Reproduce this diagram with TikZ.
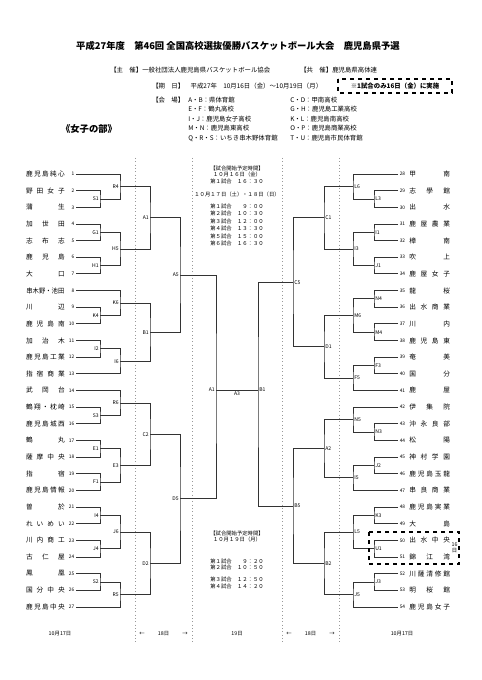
\documentclass[tikz,border=0pt]{standalone}
\usepackage{fontspec}
\usepackage{graphicx}
\setmainfont{Noto Sans CJK JP}
\newcommand\ry[1]{{174+(#1-1)*16.65}}
\newcommand\nm[1]{\nmA#1\relax}
\def\nmA#1{\ifx#1\relax\else#1\expandafter\nmB\fi}
\def\nmB#1{\ifx#1\relax\else\hfill#1\expandafter\nmB\fi}
\begin{document}
\begin{tikzpicture}[x=0.75pt,y=-0.75pt,
  br/.style={draw=black!80,line width=0.6pt},
  gridline/.style={draw=black!40,line width=0.5pt,dotted},
  lname/.style={anchor=east,inner sep=0pt,font=\fontsize{5}{5}\selectfont},
  rname/.style={anchor=west,inner sep=0pt,font=\fontsize{5}{5}\selectfont},
  num/.style={inner sep=0pt,font=\fontsize{3.6}{4}\selectfont},
  llab/.style={anchor=east,inner sep=0.8pt,font=\fontsize{3.8}{4}\selectfont},
  rlab/.style={anchor=west,inner sep=0.8pt,font=\fontsize{3.8}{4}\selectfont},
  ctext/.style={inner sep=0pt,font=\fontsize{4}{4.5}\selectfont},
  hdr/.style={anchor=west,inner sep=0pt,font=\fontsize{4.8}{5}\selectfont}]
\newcommand\LT[2]{\coordinate (t#1) at (76,\ry{#1});
  \node[num,anchor=east] (num#1) at (74.5,\ry{#1}) {#1};
  \node[lname] (nm#1) at (65,\ry{#1}) {\hbox to 29pt{#2}};}
\newcommand\RT[3]{\coordinate (t#1) at (398,\ry{#2});
  \node[num,anchor=west] (num#1) at (399.5,\ry{#2}) {#1};
  \node[rname] (nm#1) at (409,\ry{#2}) {\hbox to 30.5pt{#3}};}
\newcommand\LM[4]{\coordinate (#1) at (#2,\ry{#3}); \node[llab] (n#1) at (#1) {#4};}
\newcommand\RM[4]{\coordinate (#1) at (#2,\ry{#3}); \node[rlab] (n#1) at (#1) {#4};}

\fill[white] (0,0) rectangle (481,680);
\useasboundingbox (0,0) rectangle (481,680);

% header
\node[inner sep=0pt,font=\fontsize{7}{8}\selectfont\bfseries] (title) at (238,45.5) {平成27年度　第46回 全国高校選抜優勝バスケットボール大会　鹿児島県予選};
\node[hdr] (shu) at (110,70) {【主　催】一般社団法人鹿児島県バスケットボール協会};
\node[hdr] (kyo) at (300,70) {【共　催】鹿児島県高体連};
\node[hdr] (kij) at (152,86.5) {【期　日】　平成27年　10月16日（金）～10月19日（月）};
\draw[black,line width=0.9pt,dashed] (338,79) rectangle (452,93);
\node[inner sep=0pt,font=\fontsize{4.8}{5}\selectfont\bfseries] (note) at (395,86) {※1試合のみ16日（金）に実施};
\node[hdr] (kai) at (152,100) {【会　場】};
\node[hdr] (v1) at (188,100) {A・B：県体育館};
\node[hdr] (v2) at (188,109.5) {E・F：鶴丸高校};
\node[hdr] (v3) at (188,119) {I・J：鹿児島女子高校};
\node[hdr] (v4) at (188,128.5) {M・N：鹿児島東高校};
\node[hdr] (v5) at (188,138) {Q・R・S：いちき串木野体育館};
\node[hdr] (w1) at (290,100) {C・D：甲南高校};
\node[hdr] (w2) at (290,109.5) {G・H：鹿児島工業高校};
\node[hdr] (w3) at (290,119) {K・L：鹿児島南高校};
\node[hdr] (w4) at (290,128.5) {O・P：鹿児島商業高校};
\node[hdr] (w5) at (290,138) {T・U：鹿児島市民体育館};
\node[inner sep=0pt,font=\fontsize{7}{8}\selectfont\bfseries] (bu) at (89,129) {《女子の部》};

% dotted day lines
\foreach \gx in {135,192,282,339} \draw[gridline] (\gx,158) -- (\gx,642);

% center texts
\node[ctext] (c1) at (237,168) {【試合開始予定時間】};
\node[ctext] (c2) at (237,174.5) {１０月１６日（金）};
\node[ctext] (c3) at (237,181) {第１試合　１６：３０};
\node[ctext] (c4) at (237,194) {１０月１７日（土）・１８日（日）};
\node[ctext] (c5) at (237,206) {第１試合　　９：００};
\node[ctext] (c6) at (237,213.5) {第２試合　１０：３０};
\node[ctext] (c7) at (237,221) {第３試合　１２：００};
\node[ctext] (c8) at (237,228.5) {第４試合　１３：３０};
\node[ctext] (c9) at (237,236) {第５試合　１５：００};
\node[ctext] (c10) at (237,243.5) {第６試合　１６：３０};
\node[ctext] (d1) at (237,533) {【試合開始予定時間】};
\node[ctext] (d2) at (237,539.5) {１０月１９日（月）};
\node[ctext] (d3) at (237,561) {第１試合　　９：２０};
\node[ctext] (d4) at (237,567.5) {第２試合　１０：５０};
\node[ctext] (d5) at (237,579.5) {第３試合　１２：５０};
\node[ctext] (d6) at (237,586) {第４試合　１４：２０};

% bottom axis
\node[ctext] (ax1) at (60,634) {10月17日};
\node[ctext] (ax2) at (142,634) {←};
\node[ctext] (ax3) at (163.5,634) {18日};
\node[ctext] (ax4) at (185,634) {→};
\node[ctext] (ax5) at (237,634) {19日};
\node[ctext] (ax6) at (289,634) {←};
\node[ctext] (ax7) at (310.5,634) {18日};
\node[ctext] (ax8) at (332,634) {→};
\node[ctext] (ax9) at (402,634) {10月17日};

% left teams
\LT{1}{\nm{鹿児島純心}}
\LT{2}{\nm{野田女子}}
\LT{3}{\nm{蒲生}}
\LT{4}{\nm{加世田}}
\LT{5}{\nm{志布志}}
\LT{6}{\nm{鹿児島}}
\LT{7}{\nm{大口}}
\LT{8}{\hss\scalebox{0.95}[1]{串木野・池田}\hss}
\LT{9}{\nm{川辺}}
\LT{10}{\nm{鹿児島南}}
\LT{11}{\nm{加治木}}
\LT{12}{\nm{鹿児島工業}}
\LT{13}{\nm{指宿商業}}
\LT{14}{\nm{武岡台}}
\LT{15}{\nm{鶴翔・枕崎}}
\LT{16}{\nm{鹿児島城西}}
\LT{17}{\nm{鶴丸}}
\LT{18}{\nm{薩摩中央}}
\LT{19}{\nm{指宿}}
\LT{20}{\nm{鹿児島情報}}
\LT{21}{\nm{曽於}}
\LT{22}{\nm{れいめい}}
\LT{23}{\nm{川内商工}}
\LT{24}{\nm{古仁屋}}
\LT{25}{\nm{鳳凰}}
\LT{26}{\nm{国分中央}}
\LT{27}{\nm{鹿児島中央}}

% right teams
\RT{28}{1}{\nm{甲南}}
\RT{29}{2}{\nm{志學館}}
\RT{30}{3}{\nm{出水}}
\RT{31}{4}{\nm{鹿屋農業}}
\RT{32}{5}{\nm{樟南}}
\RT{33}{6}{\nm{吹上}}
\RT{34}{7}{\nm{鹿屋女子}}
\RT{35}{8}{\nm{龍桜}}
\RT{36}{9}{\nm{出水商業}}
\RT{37}{10}{\nm{川内}}
\RT{38}{11}{\nm{鹿児島東}}
\RT{39}{12}{\nm{奄美}}
\RT{40}{13}{\nm{国分}}
\RT{41}{14}{\nm{鹿屋}}
\RT{42}{15}{\nm{伊集院}}
\RT{43}{16}{\nm{沖永良部}}
\RT{44}{17}{\nm{松陽}}
\RT{45}{18}{\nm{神村学園}}
\RT{46}{19}{\nm{鹿児島玉龍}}
\RT{47}{20}{\nm{串良商業}}
\RT{48}{21}{\nm{鹿児島実業}}
\RT{49}{22}{\nm{大島}}
\RT{50}{23}{\nm{出水中央}}
\RT{51}{24}{\nm{錦江湾}}
\RT{52}{25}{\nm{川薩清修館}}
\RT{53}{26}{\nm{明桜館}}
\RT{54}{27}{\nm{鹿児島女子}}

% left matches
\LM{lS1}{100}{2.5}{S1}
\LM{lR4}{120}{1.75}{R4}
\LM{lG1}{100}{4.5}{G1}
\LM{lH1}{100}{6.5}{H1}
\LM{lH5}{120}{5.5}{H5}
\LM{lK4}{100}{9.5}{K4}
\LM{lK6}{120}{8.75}{K6}
\LM{lI2}{100}{11.5}{I2}
\LM{lI6}{120}{12.25}{I6}
\LM{lS3}{100}{15.5}{S3}
\LM{lR6}{120}{14.75}{R6}
\LM{lE1}{100}{17.5}{E1}
\LM{lF1}{100}{19.5}{F1}
\LM{lE3}{120}{18.5}{E3}
\LM{lI4}{100}{21.5}{I4}
\LM{lJ4}{100}{23.5}{J4}
\LM{lJ6}{120}{22.5}{J6}
\LM{lS2}{100}{25.5}{S2}
\LM{lR5}{120}{26.25}{R5}
\LM{lA1}{150}{3.625}{A1}
\LM{lB1}{150}{10.5}{B1}
\LM{lC2}{150}{16.625}{C2}
\LM{lD2}{150}{24.375}{D2}
\LM{lA5}{180}{7.0625}{A5}
\LM{lD5}{180}{20.5}{D5}
\coordinate (FL) at (216,390);
\node[llab] (nFL) at (FL) {A1};

% right matches
\RM{rL3}{374}{2.5}{L3}
\RM{rL6}{353}{1.75}{L6}
\RM{rI1}{374}{4.5}{I1}
\RM{rJ1}{374}{6.5}{J1}
\RM{rI3}{353}{5.5}{I3}
\RM{rN4}{374}{8.5}{N4}
\RM{rM4}{374}{10.5}{M4}
\RM{rM6}{353}{9.5}{M6}
\RM{rF3}{374}{12.5}{F3}
\RM{rF5}{353}{13.25}{F5}
\RM{rN3}{374}{16.5}{N3}
\RM{rN5}{353}{15.75}{N5}
\RM{rJ2}{374}{18.5}{J2}
\RM{rI5}{353}{19.25}{I5}
\RM{rK3}{374}{21.5}{K3}
\RM{rU1}{374}{23.5}{U1}
\RM{rL5}{353}{22.5}{L5}
\RM{rJ3}{374}{25.5}{J3}
\RM{rJ5}{353}{26.25}{J5}
\RM{rC1}{324}{3.625}{C1}
\RM{rD1}{324}{11.375}{D1}
\RM{rA2}{324}{17.5}{A2}
\RM{rB2}{324}{24.375}{B2}
\RM{rC5}{293}{7.5}{C5}
\RM{rB5}{293}{20.9375}{B5}
\coordinate (FR) at (258,390);
\node[rlab] (nFR) at (FR) {B1};

% left brackets
\draw[br] (t2) -| (lS1) |- (t3);
\draw[br] (t1) -| (lR4) |- (lS1);
\draw[br] (t4) -| (lG1) |- (t5);
\draw[br] (t6) -| (lH1) |- (t7);
\draw[br] (lG1) -| (lH5) |- (lH1);
\draw[br] (t9) -| (lK4) |- (t10);
\draw[br] (t8) -| (lK6) |- (lK4);
\draw[br] (t11) -| (lI2) |- (t12);
\draw[br] (lI2) -| (lI6) |- (t13);
\draw[br] (t15) -| (lS3) |- (t16);
\draw[br] (t14) -| (lR6) |- (lS3);
\draw[br] (t17) -| (lE1) |- (t18);
\draw[br] (t19) -| (lF1) |- (t20);
\draw[br] (lE1) -| (lE3) |- (lF1);
\draw[br] (t21) -| (lI4) |- (t22);
\draw[br] (t23) -| (lJ4) |- (t24);
\draw[br] (lI4) -| (lJ6) |- (lJ4);
\draw[br] (t25) -| (lS2) |- (t26);
\draw[br] (lS2) -| (lR5) |- (t27);
\draw[br] (lR4) -| (lA1) |- (lH5);
\draw[br] (lK6) -| (lB1) |- (lI6);
\draw[br] (lR6) -| (lC2) |- (lE3);
\draw[br] (lJ6) -| (lD2) |- (lR5);
\draw[br] (lA1) -| (lA5) |- (lB1);
\draw[br] (lC2) -| (lD5) |- (lD2);
\draw[br] (lA5) -| (FL) |- (lD5);

% right brackets
\draw[br] (t29) -| (rL3) |- (t30);
\draw[br] (t28) -| (rL6) |- (rL3);
\draw[br] (t31) -| (rI1) |- (t32);
\draw[br] (t33) -| (rJ1) |- (t34);
\draw[br] (rI1) -| (rI3) |- (rJ1);
\draw[br] (t35) -| (rN4) |- (t36);
\draw[br] (t37) -| (rM4) |- (t38);
\draw[br] (rN4) -| (rM6) |- (rM4);
\draw[br] (t39) -| (rF3) |- (t40);
\draw[br] (rF3) -| (rF5) |- (t41);
\draw[br] (t43) -| (rN3) |- (t44);
\draw[br] (t42) -| (rN5) |- (rN3);
\draw[br] (t45) -| (rJ2) |- (t46);
\draw[br] (rJ2) -| (rI5) |- (t47);
\draw[br] (t48) -| (rK3) |- (t49);
\draw[br] (t50) -| (rU1) |- (t51);
\draw[br] (rK3) -| (rL5) |- (rU1);
\draw[br] (t52) -| (rJ3) |- (t53);
\draw[br] (rJ3) -| (rJ5) |- (t54);
\draw[br] (rL6) -| (rC1) |- (rI3);
\draw[br] (rM6) -| (rD1) |- (rF5);
\draw[br] (rN5) -| (rA2) |- (rI5);
\draw[br] (rL5) -| (rB2) |- (rJ5);
\draw[br] (rC1) -| (rC5) |- (rD1);
\draw[br] (rA2) -| (rB5) |- (rB2);
\draw[br] (rC5) -| (FR) |- (rB5);

% final
\draw[br] (FL) -- node[below=0.5pt,inner sep=0.8pt,font=\fontsize{3.8}{4}\selectfont] (nA3) {A3} (FR);

% U1 dashed box
\draw[black,line width=0.9pt,dashed] (369,532) rectangle (459,564);
\node[ctext,align=center,font=\fontsize{4}{4.6}\selectfont] (d16) at (454.5,548) {16\\日};
\end{tikzpicture}
\end{document}
